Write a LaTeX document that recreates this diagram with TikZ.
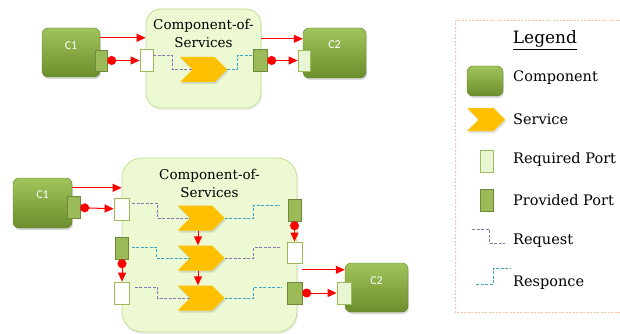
\documentclass[tikz,border=0pt]{standalone}
\usepackage{fontspec}
\setmainfont{DejaVu Serif}
\newfontfamily\portfont{Carlito}
\usetikzlibrary{arrows.meta,shapes.symbols,shadows,positioning}

\definecolor{comptop}{RGB}{160,196,92}
\definecolor{compbot}{RGB}{108,142,44}
\definecolor{compline}{RGB}{96,126,40}
\definecolor{cosfill}{RGB}{236,249,210}
\definecolor{cosline}{RGB}{196,222,146}
\definecolor{provfill}{RGB}{155,187,89}
\definecolor{provline}{RGB}{110,136,60}
\definecolor{reqline}{RGB}{155,187,89}
\definecolor{reqfill}{RGB}{232,246,212}
\definecolor{servgold}{RGB}{255,192,0}
\definecolor{reqcol}{RGB}{140,116,184}
\definecolor{respcol}{RGB}{60,166,196}
\definecolor{legline}{RGB}{248,196,160}

\begin{document}
\begin{tikzpicture}[x=1pt,y=-1pt,node distance=40pt,
    comp/.style={rectangle,rounded corners=6pt,draw=compline,top color=comptop,bottom color=compbot,
        inner sep=0pt,drop shadow={opacity=0.3,shadow xshift=1pt,shadow yshift=-2pt}},
    comptext/.style={text=white,font=\portfont\fontsize{12}{14}\selectfont,inner sep=0pt},
    cos/.style={rectangle,rounded corners=15pt,draw=cosline,fill=cosfill,line width=0.8pt,inner sep=0pt,
        drop shadow={opacity=0.15,shadow xshift=1pt,shadow yshift=-2pt}},
    costitle/.style={font=\fontsize{13.5}{18}\selectfont,align=center,inner sep=0pt,anchor=north},
    service/.style={signal,signal to=east,signal from=west,fill=servgold,minimum width=47pt,
        minimum height=25pt,inner sep=0pt,drop shadow={opacity=0.25,shadow xshift=1pt,shadow yshift=-2pt}},
    provport/.style={rectangle,draw=provline,fill=provfill,minimum width=13pt,minimum height=22pt,inner sep=0pt},
    reqport/.style={rectangle,draw=reqline,line width=0.8pt,fill=white,minimum width=13pt,minimum height=22pt,inner sep=0pt},
    reqportg/.style={reqport,fill=reqfill},
    flow/.style={red,line width=1pt,-{Triangle[length=9pt,width=8pt]}},
    dotflow/.style={flow,{Circle[length=9pt]}-{Triangle[length=9pt,width=8pt]}},
    request/.style={draw=reqcol,line width=1pt,dash pattern=on 3pt off 1.5pt},
    response/.style={draw=respcol,line width=1pt,dash pattern=on 3pt off 1.5pt},
    legtext/.style={anchor=west,font=\fontsize{14.5}{17}\selectfont,inner sep=0pt}]
    \useasboundingbox (0,0) rectangle (620,334);

    % top: C1 -> component-of-services -> C2
    \node[cos,minimum width=115pt,minimum height=99pt,
        label={[costitle,yshift=-10pt]north:Component-of-\\Services}] (cosa) at (203.5,58.5) {};
    \node[comp,minimum width=58pt,minimum height=49pt,label={[comptext,yshift=7pt]center:C1}] (c1a) at (71,52.5) {};
    \node[comp,minimum width=63pt,minimum height=50pt,label={[comptext,yshift=8pt]center:C2}] (c2a) at (334.5,53) {};
    \node[provport,minimum width=12pt,minimum height=21pt] (pa1) at (101,60.5) {};
    \node[reqport]  (ra1) at (146.5,60.5) {};
    \node[provport,minimum width=14pt] (pb1) at (260,60.5) {};
    \node[reqportg,minimum width=12pt,minimum height=21pt] (rc1) at (304,60.5) {};
    \node[service] (s1) at (203.5,69.5) {};

    \draw[request] ([yshift=5pt]ra1.east) -- ++(19,0) |- ([xshift=-11pt]s1.center);
    \draw[response] (s1.east) -- ++(10,0) |- ([yshift=5pt]pb1.west);

    \draw[flow] ([yshift=-10pt]c1a.north east) -- ([yshift=-10pt]c1a.north east -| cosa.west);
    \draw[flow] ([yshift=-11pt]c2a.north west -| cosa.east) -- ([yshift=-11pt]c2a.north west);
    \draw[dotflow] (pa1) -- (ra1);
    \draw[dotflow] (pb1) -- (rc1);

    % bottom: three services inside
    \node[cos,minimum width=175pt,minimum height=174pt,rounded corners=20pt,
        label={[costitle,yshift=-11pt]north:Component-of-\\Services}] (cosb) at (209.5,245) {};
    \node[comp,minimum width=59pt,minimum height=50pt,label={[comptext,yshift=8pt]center:C1}] (c1b) at (42.5,203) {};
    \node[comp,minimum width=63pt,minimum height=49pt,label={[comptext,yshift=7pt]center:C2}] (c2b) at (376.5,287.5) {};
    \node[provport] (pa2) at (73.5,207.5) {};
    \node[reqport,minimum width=15pt] (rb1) at (121.5,209) {};
    \node[provport] (pb2) at (122,248) {};
    \node[reqport,minimum width=15pt] (rb3) at (122,293) {};
    \node[provport] (pb4) at (294.5,210) {};
    \node[reqport,minimum width=15pt,minimum height=21pt] (rb5) at (294.5,252.5) {};
    \node[provport,minimum width=15pt] (pb6) at (294.5,293) {};
    \node[reqportg,minimum width=14pt] (rc2) at (344,293) {};
    \node[service] (t1) at (201,218) {};
    \node[service] (t2) [below of=t1] {};
    \node[service] (t3) [below of=t2] {};

    \draw[request] ([xshift=3pt,yshift=6pt]rb1.east) -- ++(25,0) |- ([xshift=-11pt]t1.center);
    \draw[response] (t1.east) -- ++(29,0) |- ([xshift=-8pt,yshift=5pt]pb4.west);
    \draw[response] ([xshift=3pt,yshift=1pt]pb2.east) -- ++(25,0) |- ([xshift=-11pt]t2.center);
    \draw[request] (t2.east) -- ++(29,0) |- ([xshift=-5pt,yshift=5pt]rb5.west);
    \draw[request] ([xshift=5pt,yshift=6pt]rb3.east) -- ++(23,0) |- ([xshift=-11pt]t3.center);
    \draw[response] (t3.east) -- ++(29,0) |- ([xshift=-5pt,yshift=6pt]pb6.west);

    \draw[flow] ([yshift=-10pt]c1b.north east) -- ([yshift=-10pt]c1b.north east -| cosb.west);
    \draw[dotflow] (pa2) -- (rb1);
    \draw[dotflow] (pb2) -- (rb3);
    \draw[flow] ([xshift=-3pt]t1.south) -- ([xshift=-3pt]t2.north);
    \draw[flow] ([xshift=-3pt]t2.south) -- ([xshift=-3pt]t3.north);
    \draw[dotflow] (pb4) -- (rb5);
    \draw[flow] ([xshift=5pt,yshift=-7pt]c2b.north west -| cosb.east) -- ([yshift=-7pt]c2b.north west);
    \draw[dotflow] (pb6) -- (rc2);

    % legend
    \draw[legline,line width=0.8pt,dash pattern=on 2pt off 1.5pt] (455,20) rectangle (624,312);
    \node[font=\fontsize{17}{20}\selectfont] (legtitle) at (545,40) {\underline{Legend}};
    \node[comp,minimum width=36pt,minimum height=30pt] (lgcomp) at (485,81) {};
    \node[service,minimum width=38pt,minimum height=23pt] (lgserv) at (486,119.5) {};
    \node[reqportg] (lgreq) at (486.5,161) {};
    \node[provport] (lgprov) at (486.5,200) {};
    \draw[request] (472,229) -- (489,229) -- (489,243) -- (505,243);
    \draw[response] (476,284) -- (493,284) -- (493,268) -- (510,268);
    \node[legtext] (txcomp) at (513,78) {Component};
    \node[legtext] (txserv) at (513,119) {Service};
    \node[legtext] (txreq) at (513,159) {Required Port};
    \node[legtext] (txprov) at (513,200) {Provided Port};
    \node[legtext] (txrqst) at (513,241) {Request};
    \node[legtext] (txresp) at (513,283) {Responce};
\end{tikzpicture}
\end{document}
